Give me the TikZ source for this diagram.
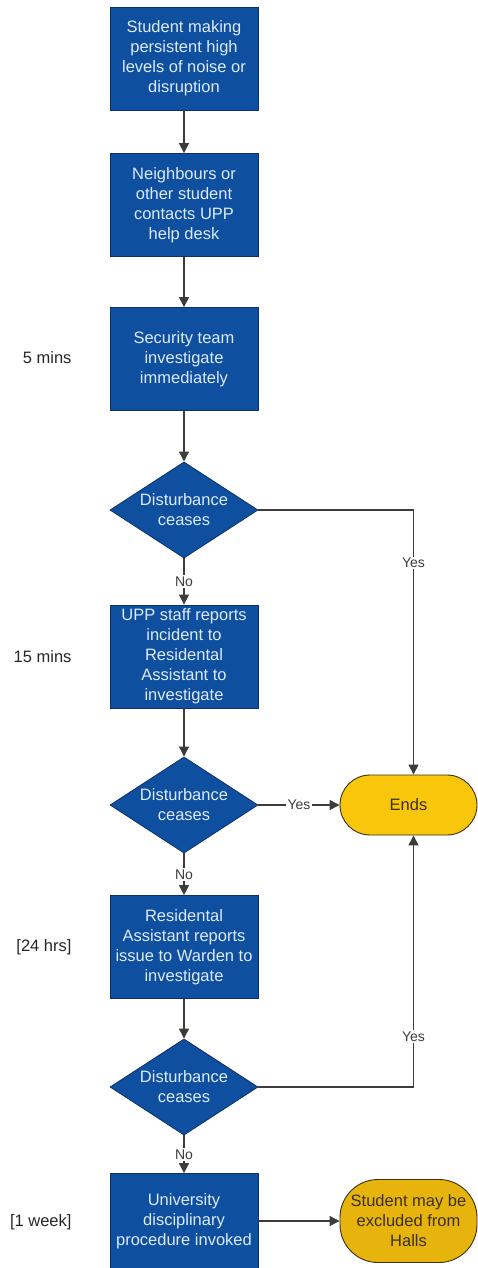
\documentclass[tikz,border=0pt]{standalone}
\usepackage{fontspec}
\setmainfont{Liberation Sans}
\usetikzlibrary{shapes.geometric,arrows.meta}

\definecolor{boxblue}{RGB}{14,79,160}
\definecolor{boxline}{RGB}{12,48,105}
\definecolor{boxtext}{RGB}{222,234,252}
\definecolor{endyellow}{RGB}{248,198,10}
\definecolor{endgold}{RGB}{230,180,12}
\definecolor{endline}{RGB}{60,48,18}
\definecolor{flowline}{RGB}{60,60,60}

\begin{document}
\begin{tikzpicture}[x=1pt,y=-1pt,
	every node/.style={font=\fontsize{16.5}{20}\selectfont},
	stepbox/.style={rectangle, draw=boxline, fill=boxblue, text=boxtext, line width=0.8pt, minimum width=148pt, minimum height=103pt, align=center, inner sep=2pt},
	decision/.style={diamond, draw=boxline, fill=boxblue, text=boxtext, line width=0.8pt, minimum width=148pt, minimum height=90pt, align=center, inner sep=-6pt},
	terminal/.style={rectangle, rounded corners=30pt, draw=endline, fill=endyellow, text=endline, line width=0.9pt, minimum width=137pt, minimum height=60pt, align=center},
	flow/.style={draw=flowline, line width=1.3pt, -{Triangle[length=10pt,width=10pt]}},
	answer/.style={fill=white, text=flowline, font=\fontsize{14}{16}\selectfont, inner sep=1.5pt},
	timing/.style={anchor=east, text=black!85}]

	\useasboundingbox (0,0) rectangle (477,1268);

	% steps
	\node [stepbox] (noise) at (184,58.5) {Student making\\persistent high\\levels of noise or\\disruption};
	\node [stepbox] (contact) at (184,205) {Neighbours or\\other student\\contacts UPP\\help desk};
	\node [stepbox] (security) at (184,359) {Security team\\investigate\\immediately};
	\node [decision] (cease1) at (184,510) {Disturbance\\ceases};
	\node [stepbox] (assistant) at (184,656.5) {UPP staff reports\\incident to\\Residental\\Assistant to\\investigate};
	\node [decision] (cease2) at (184,805) {Disturbance\\ceases};
	\node [stepbox] (warden) at (184,947) {Residental\\Assistant reports\\issue to Warden to\\investigate};
	\node [decision] (cease3) at (184,1087) {Disturbance\\ceases};
	\node [stepbox, minimum height=95pt] (invoke) at (184,1221) {University\\disciplinary\\procedure invoked};

	% outcomes
	\node [terminal] (ends) at (408.5,805) {Ends};
	\node [terminal, fill=endgold, rounded corners=38pt, minimum height=83pt] (exclude) at (408.5,1221) {Student may be\\excluded from\\Halls};

	% times
	\node [timing] (t1) at (75,358) {5 mins};
	\node [timing] (t2) at (75,657) {15 mins};
	\node [timing] (t3) at (75,947) {[24 hrs]};
	\node [timing] (t4) at (75,1222) {[1 week]};

	% arrows
	\draw [flow] (noise) -- (contact);
	\draw [flow] (contact) -- (security);
	\draw [flow] (security) -- (cease1);
	\draw [flow] (cease1) -- node [answer] {No} (assistant);
	\draw [flow] (cease1.east) -| node [answer, pos=0.6] {Yes} ([xshift=5pt]ends.north);
	\draw [flow] (assistant) -- (cease2);
	\draw [flow] (cease2) -- node [answer] {Yes} (ends);
	\draw [flow] (cease2) -- node [answer] {No} (warden);
	\draw [flow] (warden) -- (cease3);
	\draw [flow] (cease3.east) -| node [answer, pos=0.6] {Yes} ([xshift=5pt]ends.south);
	\draw [flow] (cease3) -- node [answer] {No} (invoke);
	\draw [flow] (invoke) -- (exclude);

\end{tikzpicture}
\end{document}
